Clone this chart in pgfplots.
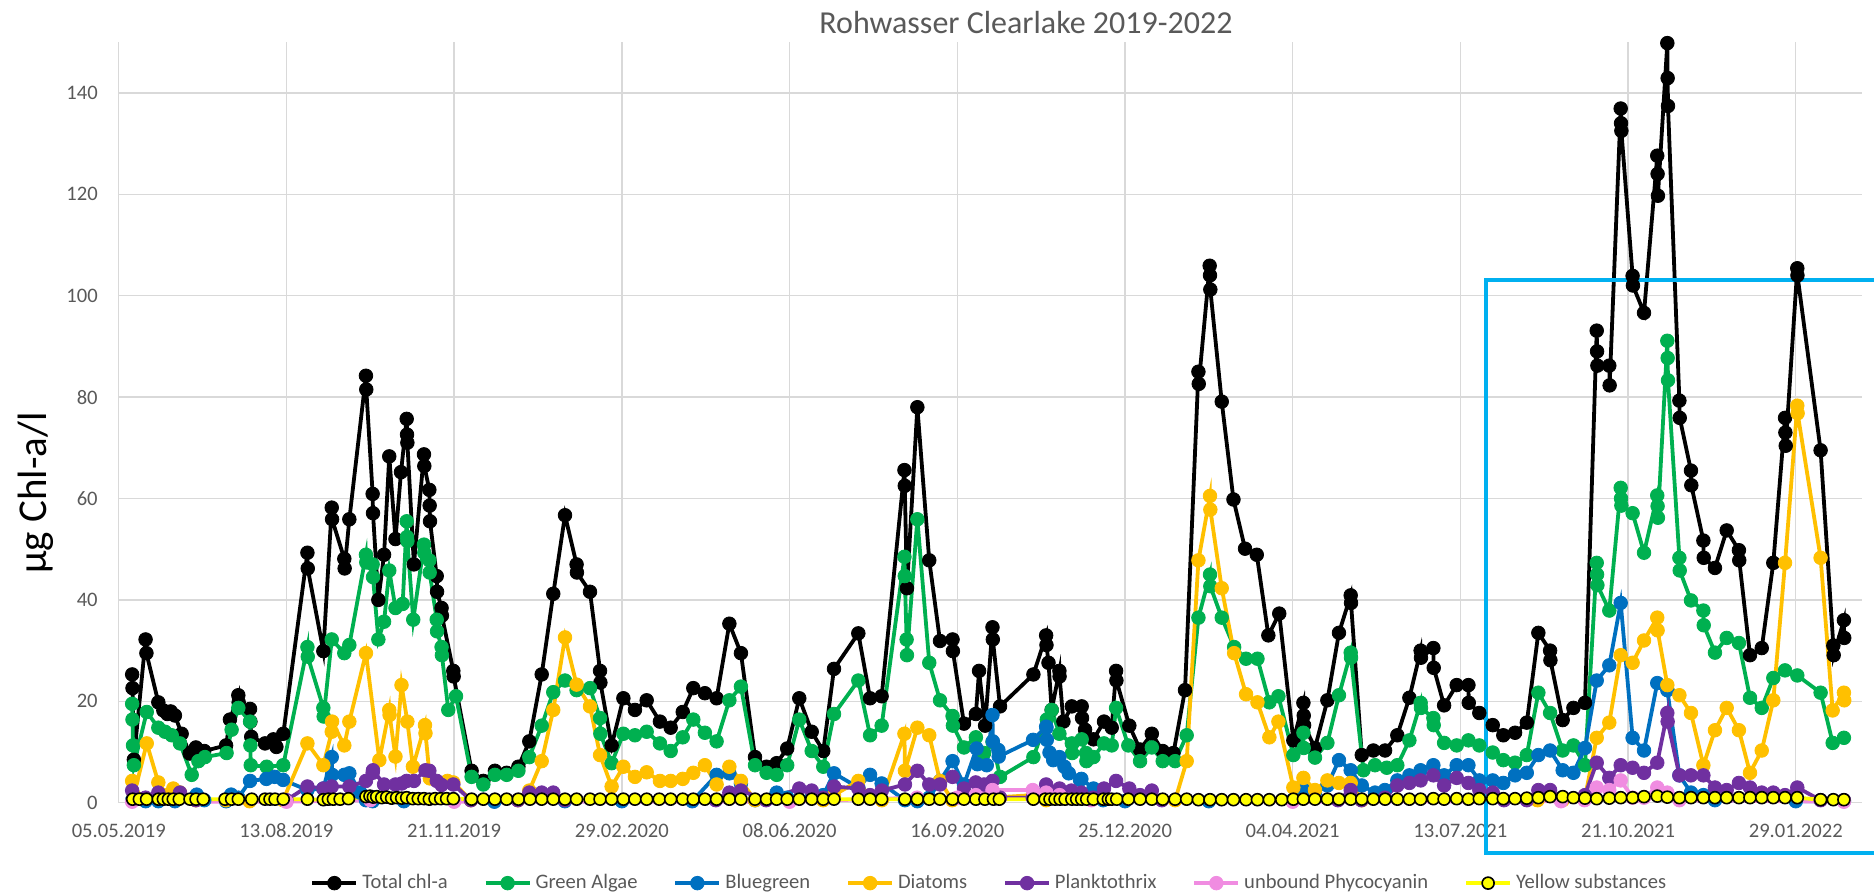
\documentclass[border=0pt]{standalone}
\usepackage{pgfplots}
\pgfplotsset{compat=1.18}
\usepackage{fontspec}
\setmainfont{Carlito}
\definecolor{tickgray}{RGB}{89,89,89}
\definecolor{gridgray}{RGB}{217,217,217}
\definecolor{cgreen}{RGB}{0,176,80}
\definecolor{cblue}{RGB}{0,112,192}
\definecolor{cdiat}{RGB}{255,192,0}
\definecolor{cplank}{RGB}{112,48,160}
\definecolor{cphyco}{RGB}{240,140,225}
\definecolor{cyellow}{RGB}{255,255,0}
\definecolor{boxblue}{RGB}{0,176,240}
\begin{document}
\begin{tikzpicture}
\begin{axis}[
  at={(0,0)}, anchor=south west,
  scale only axis, width=871.6pt, height=380.3pt,
  xmin=0, xmax=1039.5, ymin=0, ymax=150,
  xtick={0,100,...,1000},
  xticklabels={05.05.2019,13.08.2019,21.11.2019,29.02.2020,08.06.2020,16.09.2020,25.12.2020,04.04.2021,13.07.2021,21.10.2021,29.01.2022},
  ytick={0,20,...,140},
  grid=major, major grid style={gridgray, line width=0.7pt},
  axis line style={draw=none}, tick style={draw=none},
  ticklabel style={font=\fontsize{10.3}{12}\selectfont, text=tickgray},
  xticklabel style={yshift=-7pt},
  yticklabel style={xshift=-7pt},
  /pgf/number format/assume math mode=true,
  clip=false,
  every axis plot/.append style={line width=1.9pt, mark=*, mark size=3.4pt, mark options={solid, line width=0.4pt}},
  legend columns=7,
  legend style={at={(axis description cs:0.5,0)}, anchor=center, yshift=-40.2pt, draw=none, fill=none,
    font=\fontsize{10.3}{12}\selectfont, text=tickgray,
    /tikz/every even column/.append style={column sep=16pt}},
  legend image code/.code={\draw[mark repeat=2,mark phase=2] plot coordinates {(0pt,0pt)(11pt,0pt)(22pt,0pt)};},
]
% Total chl-a
\addplot[black] coordinates {
(8,25.3)(8.2,22.6)(9,8.5)(16,32.2)(16.5,29.5)(23.6,19.8)(26.6,18.2)(29,17.5)(31,18)(33.5,17.2)(37.5,13.6)(42.3,9.7)
(46,10.9)(51,10.2)(64,11.3)(66.3,16.4)(71.3,21.2)(71.5,19.8)(78.3,18.5)(78.5,16)(79,13)(87.2,11.7)(92.2,12.5)(94,11)(98.1,13.6)
(112.5,49.3)(112.7,46.2)(122,29.9)(127,58.2)(127.2,55.9)(134.5,48.1)(134.7,46.2)(137.5,55.9)(147.4,84.2)(147.6,81.5)
(151.4,60.9)(151.6,57.1)(154.8,40)(158.2,48.9)(161.3,68.3)(165,52)(168.3,65.2)(171.7,75.7)(171.9,72.6)(172.1,71)(176,47)
(182,68.7)(182.2,66.4)(185.2,61.7)(185.4,58.6)(185.6,55.5)(189.6,44.7)(189.8,41.6)(192.5,38.4)(192.7,36.9)(199.5,26)(199.7,24.9)
(210.4,6.3)(217.4,4.3)(224.3,6.3)(231.3,5.9)(238.3,7.1)(244.8,12.1)(252.2,25.3)(259.1,41.2)(266.1,56.7)(273,47)(273.2,45.4)
(281,41.6)(287,26)(287.2,23.7)(293.9,11.3)(300.9,20.6)(307.8,18.3)(314.8,20.2)(322.7,16)(329.1,14.8)(336.3,17.9)(342.6,22.6)
(349.5,21.6)(356.5,20.6)(364.1,35.3)(371,29.5)(379.4,9)(386.3,7.1)(392.3,7.8)(398.6,10.7)(405.8,20.6)(413.2,14)(420.1,10.2)
(426.5,26.4)(441,33.4)(448,20.6)(454.9,21)(468.5,65.6)(468.7,62.5)(470,42.3)(476.2,78)(483.3,47.8)(489.7,31.9)(497.2,32.2)(497.4,29.9)
(504,15.6)(511.1,17.5)(513,26)(516.6,15.2)(521,34.6)(521.2,32.2)(525.5,19)
(545.4,25.3)(553,33)(553.2,31.1)(554.4,27.6)(556.3,18.3)(560.9,26)(561,24.9)(563.3,16)(568.3,19)(574.2,19)(574.4,16.7)(576.2,14.4)
(581.2,12.5)(587.5,16)(592.1,14.8)(594.7,26)(594.9,24.1)(602.6,15.2)(609,10.5)(616,13.6)(622.5,10.2)(628.9,9.8)(635.8,22.2)
(643.8,85)(644,82.6)(650.5,105.9)(650.7,104)(650.9,101.2)(657.7,79.1)(664.7,59.8)(671.6,50.1)(678.6,48.9)(685.5,33)(692,37.3)
(700.4,12.3)(706.4,19.7)(706.6,17.2)(706.8,15.3)(713.3,10.8)(720.7,20.2)(727.6,33.5)(734.6,40.9)(734.8,39.4)(741.2,9.4)(748.1,10.3)
(755.1,10.3)(762.4,13.3)(769.6,20.7)(776.3,30)(776.5,28.6)(783.9,30.5)(784.1,26.6)(790.3,19.2)(797.8,23.2)(804.8,23.2)(805,19.7)
(811.3,17.7)(819.3,15.3)(825.6,13.3)(832.6,13.8)(839.6,15.8)(846.5,33.5)(853.5,30)(853.7,28.1)(861,16.3)(867.4,18.7)(874.3,19.7)
(881.3,93.1)(881.5,89)(881.7,86.2)(888.8,86.2)(889,82.3)(895.6,136.9)(895.8,134)(896,132.5)(902.7,103.9)(902.9,102)(909.5,96.6)
(917.4,127.6)(917.6,124)(917.8,119.7)(923.4,149.8)(923.6,142.9)(923.8,137.4)(930.6,79.3)(930.8,75.9)(937.5,65.5)(937.7,62.6)
(944.9,51.7)(945.1,48.3)(951.8,46.3)(958.8,53.7)(966.1,49.8)(966.3,47.8)(972.7,29.1)(979.7,30.5)(986.6,47.3)(993.6,75.9)(993.8,73)
(994,70.4)(1000.9,105.4)(1001,104)(1014.8,69.5)(1022.4,31)(1022.6,29.1)(1028.7,36)(1028.9,32.5)
};
\addlegendentry{Total chl-a}
% Green Algae
\addplot[cgreen] coordinates {
(8,19.5)(8.2,16.4)(8.5,11.3)(9,7.4)(16.7,17.9)(23.6,14.8)(27.6,14)(31.6,13.3)(36.5,11.7)(43.5,5.5)(47.5,8.2)(51.4,9)(64.3,9.8)
(67.3,14.4)(71.3,18.7)(78.3,16)(78.5,11.3)(78.7,7.4)(88.2,7.1)(98.1,7.4)(112.5,30.7)(112.7,28.8)(122,18.7)(122.2,17)(127,32.2)
(134.5,29.5)(137.5,31.1)(147.4,48.9)(147.6,47.4)(151.4,47)(151.6,44.5)(154.8,32.2)(158.2,35.7)(161.3,45.8)(165,38.4)(169.3,39.2)
(171.7,55.5)(171.9,52.4)(172.1,51.6)(175.6,36.1)(182,50.9)(182.2,49.3)(185.2,47.8)(185.4,45.4)(189.6,36.1)(189.8,33.8)(192.5,30.7)
(192.7,29.1)(196.5,18.3)(201.1,21)(210.4,5.1)(217.4,3.6)(224.3,5.5)(231.3,5.5)(238.3,6.3)(244.8,9)(252.2,15.2)(259.1,21.8)(266.1,24.1)
(273,22.2)(281,22.6)(287,16.7)(287.2,13.6)(293.9,7.8)(300.9,13.6)(307.8,13.3)(314.8,14)(322.7,11.7)(329.1,10.2)(336.3,12.9)(342.6,16.4)
(349.5,13.8)(356.5,12.1)(364.1,20.2)(371,22.9)(379.4,7.4)(386.3,5.9)(392.3,5.5)(398.6,7.4)(405.8,16.4)(413.2,10.2)(420.1,7.1)(426.5,17.5)
(441,24.1)(448,13.3)(454.9,15.2)(468.5,48.5)(468.7,44.7)(469.8,32.2)(470,29.1)(476.2,55.9)(483.3,27.6)(489.7,20.2)(497.2,17.1)(497.4,15.2)
(504,10.9)(511.1,12.9)(516,9.8)(521,12)(525.5,5.1)(545.4,9)(553.4,16.4)(556.3,18.3)(560.9,13.6)(568.3,11.7)(568.5,9.8)(574.2,12.5)
(576.8,9.8)(577,8.2)(581.2,9)(587.5,11.7)(592.1,11.3)(594.7,18.7)(602,11.3)(609,8.2)(616,10.9)(622.5,8.2)(629.9,8.2)(636.8,13.3)
(643.8,36.5)(650.7,45)(650.9,42.7)(657.7,36.5)(665.1,30.7)(672.2,28.4)(679,28.4)(686.1,19.8)(691.5,21)(700.4,9.4)(706.4,13.8)
(706.6,10.8)(713.3,8.9)(720.7,11.8)(727.6,21.2)(734.6,29.6)(734.8,28.6)(742.2,6.4)(749.1,7.4)(756.1,6.9)(762.4,7.4)(769.6,12.3)
(776.3,19.7)(776.5,18.7)(783.9,16.7)(784.1,15.3)(790.3,11.8)(797.8,11.3)(804.8,12.3)(811.3,11.3)(819.3,9.9)(825.6,8.4)(832.6,7.9)
(839.6,9.4)(846.5,21.7)(853.5,17.7)(861,10.3)(867.4,11.3)(874.3,7.4)(881.3,47.3)(881.5,45)(881.7,42.9)(888.8,37.9)(895.6,62.1)
(895.8,60)(896,58.6)(902.7,57.1)(909.5,49.3)(917.4,60.6)(917.6,58.5)(917.8,56.2)(923.4,91.1)(923.6,87.7)(923.8,83.3)(930.6,48.3)
(930.8,45.8)(937.5,39.9)(944.9,37.9)(945.1,35)(951.8,29.6)(958.8,32.5)(966.1,31.5)(972.7,20.7)(979.7,18.7)(986.6,24.6)(993.6,26.1)
(1000.9,25.1)(1014.8,21.7)(1022,11.8)(1028.7,12.8)
};
\addlegendentry{Green Algae}
% Bluegreen
\addplot[cblue] coordinates {
(8,0.5)(16,0.3)(23.6,0.3)(33.5,0.3)(46.5,1.6)(51,0.5)(64,0.3)(67,1.6)(71.3,1)(78.3,4.3)(88,4.7)(93,5.1)(98,4.5)(112.5,2.5)(122,2.8)
(127,9)(127.2,5.5)(134.5,5.5)(137.5,5.8)(144,2)(147.4,0.5)(151.4,0.3)(170,0.3)(199.5,0.5)(224,0.2)(266,0.3)(300,0.3)(342,0.3)
(356.5,5.5)(364.1,5.8)(371,3.8)(379.4,0.5)(392.3,2)(398.6,1)(413.2,1)(420.1,1.5)(426.5,5.8)(441,3)(448,5.5)(454.9,3.8)(468.8,0.5)
(476.2,0.3)(483.3,1)(489.7,4.3)(497.2,8.2)(504,3.6)(511.5,10.7)(512,7.6)(517.6,7.4)(521,17.3)(521.2,12.1)(524.5,10.4)(524.7,9.1)
(545.2,12.4)(553,15)(553.2,14.8)(553.4,12.4)(555,9.9)(557.2,8.4)(560.9,9)(563.9,7.1)(566.5,5.8)(573.2,4.5)(574,4.7)(581.2,2.8)
(587,0.5)(600,0.3)(650,0.3)(700,0.5)(706.4,2.5)(713.3,2)(720.7,3.4)(727.6,8.4)(734.6,6.4)(741.2,3.4)(749.1,2)(755,2.5)(762.4,4.4)
(769.6,5.4)(776.3,6.4)(783.9,7.4)(790.3,5.4)(797.8,7.4)(804.8,7.4)(811.3,4.4)(819.3,4.4)(825.6,3.9)(832.6,5.4)(839.6,5.9)(846.5,9.4)
(853.5,10.3)(861,6.4)(867.4,5.9)(874.3,10.8)(881.3,24.1)(888.8,27.1)(895.6,39.4)(902.7,12.8)(909.5,10.3)(917.4,23.6)(923.4,22.2)
(930.6,5.4)(937.5,2)(944.9,1.5)(951.8,0.5)(1000,0.3)(1028.7,0.3)
};
\addlegendentry{Bluegreen}
% Diatoms
\addplot[cdiat] coordinates {
(8,4.3)(9,1.5)(16.7,11.7)(23.6,4)(27,1.5)(32.5,2.8)(36.5,2)(46,0.5)(64,0.5)(78,0.3)(98,0.5)(112.5,11.7)(122,7.4)(127,14)(127.2,16)
(134.5,11.3)(137.5,16)(147.4,29.5)(155.4,8.4)(161.3,18.3)(161.5,17.3)(165,9.1)(168.6,23.2)(172.1,16)(175.4,7.1)(182.6,15.3)(182.9,13.7)
(185.5,4.8)(196,4.3)(199.5,4)(210,0.5)(238,0.5)(244.8,2.4)(252.2,8.2)(259.1,18.3)(266.1,32.6)(273,23.3)(281,19)(287,9.4)(293.9,3.2)
(300.9,7.1)(307.8,5.1)(314.8,6)(322.7,4.3)(329.1,4.3)(336.3,4.7)(342.6,5.9)(349.5,7.4)(356.5,3.6)(364.1,7.1)(371,4.3)(379.4,0.5)
(420,0.5)(426.5,1.5)(441,4.3)(448,1)(455,0.5)(468.5,13.6)(468.8,6.3)(476.2,14.8)(483.3,13.3)(489.7,4.3)(497,0.5)(545,1.5)(553,0.5)
(629.9,0.5)(636.8,8.2)(643.8,47.8)(650.7,60.5)(650.9,57.8)(657.7,42.3)(665.1,29.5)(672.2,21.4)(679,19.8)(686.1,12.9)(691.5,16)
(700.4,3)(706.4,4.9)(713.3,2.5)(720.7,4.4)(727.6,3.9)(734.6,3.9)(741.2,0.5)(846,0.5)(861,0.5)(874.3,1)(881.3,12.8)(888.8,15.8)
(895.6,29.1)(902.7,27.6)(909.5,32)(917.4,36.5)(917.6,34)(923.4,23.2)(930.6,21.2)(937.5,17.7)(944.9,7.4)(951.8,14.3)(958.8,18.7)
(966.1,14.3)(972.7,5.9)(979.7,10.3)(986.6,20.2)(993.6,47.3)(1000.9,78.3)(1001.1,76.8)(1014.8,48.3)(1022,18.2)(1028.7,21.7)(1028.9,20.2)
};
\addlegendentry{Diatoms}
% Planktothrix
\addplot[cplank] coordinates {
(8,2.4)(16,1)(23.6,2)(36.5,2)(46,0.5)(100,0.5)(112.5,3.2)(122,2.8)(127,3.2)(137.5,3.2)(147.4,4.3)(151.4,5.9)(151.6,6.4)(158.2,3.6)
(165,3.6)(168.8,3.8)(171.7,4.3)(176,4.3)(182.9,6.4)(185.2,6.3)(189.6,4.3)(192.5,3.5)(199.5,3.6)(210,0.5)(238,0.5)(244.8,2)(252.2,2)
(259.1,2)(266,0.5)(356,0.5)(364.1,2)(371,2.4)(386,0.5)(405.8,2.8)(413.2,2.4)(420,1)(426.5,3.2)(441,2.8)(448,1.5)(455,2.4)(468.8,3.6)
(476.2,6.3)(483.3,3.6)(489.7,3.6)(497.2,5.1)(504,2.8)(511,4)(516,3.6)(521,4.3)(525.5,1)(545,1)(553,3.6)(561,2.8)(568,2.4)(574,2)
(581,1)(587.5,2.8)(594.7,4.3)(602.6,2.8)(609,1.5)(616,2.4)(622,0.5)(727,0.5)(734.6,2.5)(741,0.5)(755,1)(762.4,3.4)(769.6,3.9)
(776.3,4.4)(783.9,5.4)(790.3,3.4)(797.8,4.9)(804.8,3.9)(811.3,2.5)(819.3,2)(826,0.5)(839.6,0.5)(846.5,2.5)(853.5,2.5)(861,1)
(874.3,1.5)(881.3,7.9)(888.8,4.9)(895.6,7.4)(902.7,6.9)(909.5,5.9)(917.4,7.9)(923.4,17.7)(923.6,16)(930.6,5.4)(937.5,5.4)(944.9,5.4)
(951.8,3)(958.8,2.5)(966.1,3.9)(972.7,3)(979.7,2)(986.6,2)(993.6,1.5)(1000.9,3)(1014.8,0.5)(1028.7,0.5)
};
\addlegendentry{Planktothrix}
% unbound Phycocyanin
\addplot[cphyco] coordinates {
(8,0.2)(100,0.2)(150,0.5)(200,0.2)(400,0.2)(476,1)(500,1)(511,1.5)(521,2.5)(545,2.5)(553,2)(561,1.5)(580,0.5)(700,0.2)(860,0.3)
(874,0.5)(881.3,3)(888.8,2.5)(895.6,4.4)(902.7,1)(909.5,1)(917.4,3)(923.4,2)(930.6,0.5)(1028.7,0.2)
};
\addlegendentry{unbound Phycocyanin}
% Yellow substances
\addplot[cyellow, mark options={solid, fill=cyellow, draw=black, line width=0.8pt}, mark size=3.0pt] coordinates {
(8.3,0.7)(12.3,0.7)(16.6,0.7)(23.6,0.7)(26.6,0.7)(29.6,0.7)(32.5,0.7)(36.1,0.7)(42.5,0.7)(46.1,0.7)(50.4,0.7)(63.4,0.7)(67.3,0.7)
(71.3,0.7)(79.3,0.7)(87.2,0.7)(90.2,0.7)(93.2,0.7)(98.1,0.7)(112.5,0.7)(122,0.6)(125,0.7)(128,0.7)(132,0.7)(137,0.8)(147.4,1.2)
(149.8,1.3)(151.8,1.1)(153.8,1.2)(156.8,1.0)(159.8,1.1)(162.7,0.9)(165.7,1.0)(168.7,0.9)(171.7,1.0)(175.3,0.8)(178.6,0.8)(182,0.8)
(185.2,0.7)(188.6,0.8)(192,0.8)(195.5,0.8)(199.5,0.8)(210.4,0.7)(217.4,0.7)(224.3,0.7)(231.3,0.7)(238.3,0.7)(245.2,0.7)(252.2,0.7)
(259.1,0.7)(266.1,0.7)(273,0.7)(281,0.7)(287,0.7)(293.9,0.7)(300.9,0.7)(307.8,0.7)(314.8,0.7)(322.3,0.7)(329.1,0.7)(336.3,0.7)
(342.6,0.7)(349.5,0.7)(356.5,0.7)(364.1,0.7)(371,0.7)(379.4,0.7)(386.3,0.7)(392.3,0.7)(398.6,0.7)(405.8,0.7)(413.2,0.7)(420.1,0.7)
(426.5,0.7)(441,0.7)(448,0.7)(454.9,0.7)(468.8,0.7)(476.2,0.7)(483.3,0.7)(489.7,0.7)(497.2,0.7)(504,0.7)(511.1,0.7)(516.5,0.7)
(521.6,0.7)(525.1,0.7)(545.4,0.7)(552.4,0.7)(555.3,0.7)(558.3,0.7)(561.3,0.7)(564.3,0.7)(568.3,0.7)(571.2,0.7)(574.2,0.7)(577.2,0.7)
(581.2,0.7)(587.1,0.7)(590.1,0.7)(592.1,0.7)(595.1,0.7)(602,0.7)(609,0.7)(616,0.7)(622.5,0.7)(629.9,0.7)(636.8,0.7)(643.8,0.6)
(650.7,0.6)(657.7,0.6)(664.7,0.6)(672.2,0.6)(679,0.6)(686.1,0.6)(693.5,0.6)(700.4,0.7)(706.4,0.7)(713.3,0.7)(720.7,0.7)(727.6,0.7)
(734.6,0.7)(741.2,0.7)(748.1,0.7)(755.1,0.7)(762.4,0.7)(769.6,0.7)(776.3,0.7)(783.9,0.8)(790.3,0.7)(797.8,0.8)(804.8,0.7)(811.3,0.8)
(819.3,0.8)(825.6,0.8)(832.6,0.8)(839.6,0.9)(846.5,1.0)(853.5,1.2)(861,1.2)(867.4,1.0)(874.3,0.9)(881.3,0.8)(888.8,0.9)(895.6,1.0)
(902.7,1.0)(909.5,1.2)(917.4,1.3)(923.4,1.1)(930.6,1.0)(937.5,1.0)(944.9,1.0)(951.8,1.0)(958.8,1.0)(966.1,1.0)(972.7,1.0)(979.7,1.0)
(986.6,1.0)(993.6,1.0)(1000.9,1.0)(1014.8,0.6)(1022.4,0.6)(1028.7,0.6)
};
\addlegendentry{Yellow substances}
\draw[boxblue, line width=2pt] (axis cs:815,-9.9) rectangle (axis cs:1070,103);
\end{axis}
\node[font=\fontsize{16}{19}\selectfont, text=tickgray] at (453.6pt,390.3pt) {Rohwasser Clearlake 2019-2022};
\node[rotate=90, font=\fontsize{20.5}{24}\selectfont] at (-41.5pt,154.9pt) {µg Chl-a/l};
\pgfresetboundingbox
\useasboundingbox (-59.375pt,-46.15pt) rectangle (877.6pt,401.35pt);
\end{tikzpicture}
\end{document}
